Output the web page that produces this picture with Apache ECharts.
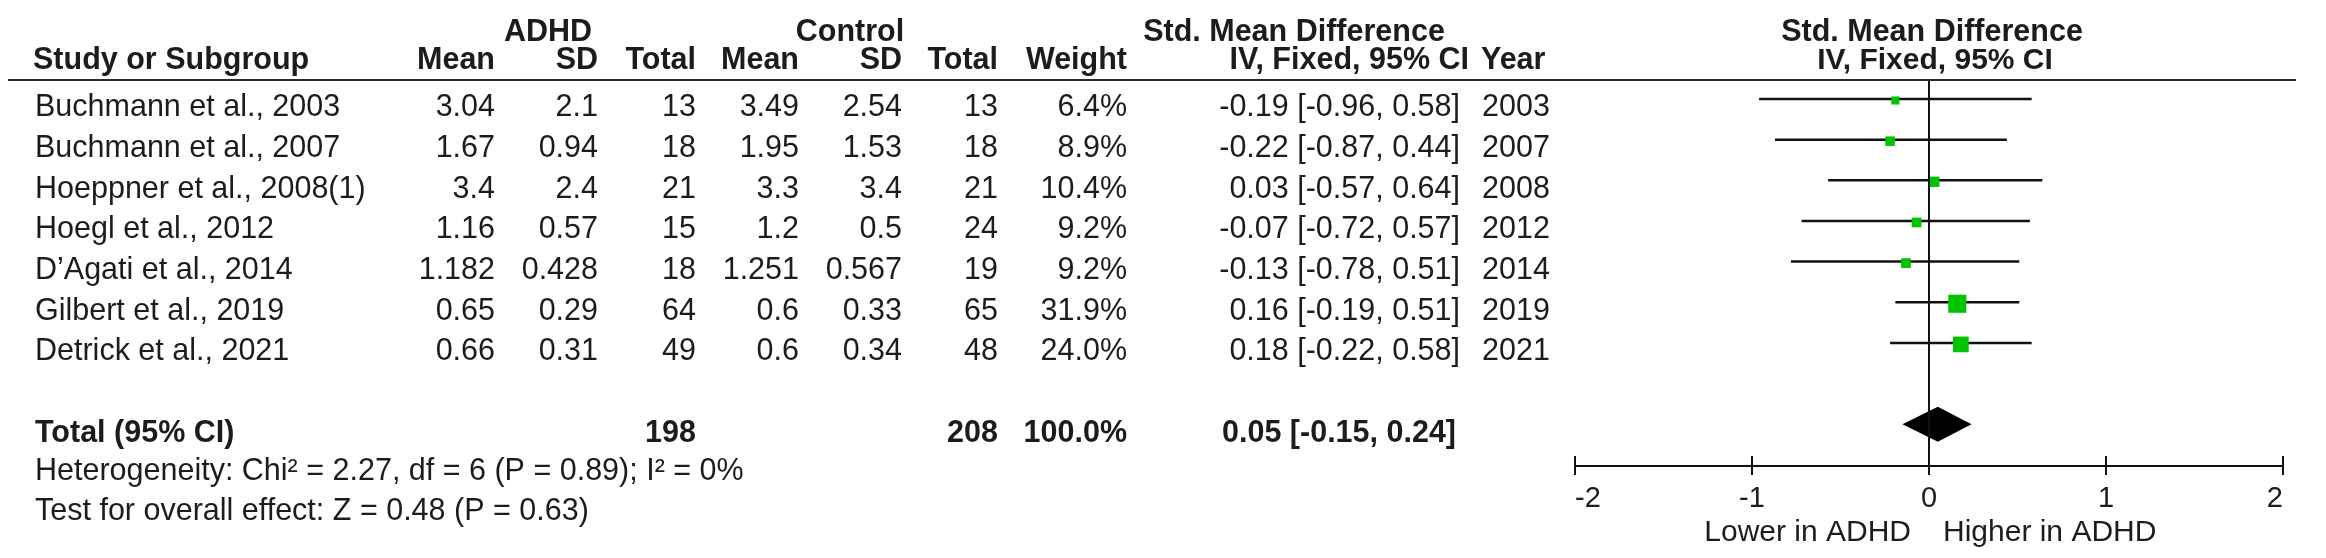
<!DOCTYPE html>
<html>
<head>
<meta charset="utf-8">
<title>Forest plot</title>
<script src="https://cdn.jsdelivr.net/npm/echarts@6.0.0/dist/echarts.min.js"></script>
<style>
html, body { margin: 0; padding: 0; background: #ffffff; }
#forestChart { width: 2326px; height: 558px; }
</style>
</head>
<body>
<div id="forestChart"></div>
<script>
// 数据 data
var studies = ['Buchmann et al., 2003', 'Buchmann et al., 2007', 'Hoeppner et al., 2008(1)', 'Hoegl et al., 2012',
    'D\u2019Agati et al., 2014', 'Gilbert et al., 2019', 'Detrick et al., 2021'];
var adhdMean = ['3.04', '1.67', '3.4', '1.16', '1.182', '0.65', '0.66'];
var adhdSD = ['2.1', '0.94', '2.4', '0.57', '0.428', '0.29', '0.31'];
var adhdN = [13, 18, 21, 15, 18, 64, 49];
var ctlMean = ['3.49', '1.95', '3.3', '1.2', '1.251', '0.6', '0.6'];
var ctlSD = ['2.54', '1.53', '3.4', '0.5', '0.567', '0.33', '0.34'];
var ctlN = [13, 18, 21, 24, 19, 65, 48];
var weight = [6.4, 8.9, 10.4, 9.2, 9.2, 31.9, 24.0];
var smd = [-0.19, -0.22, 0.03, -0.07, -0.13, 0.16, 0.18];
var lower = [-0.96, -0.87, -0.57, -0.72, -0.78, -0.19, -0.22];
var upper = [0.58, 0.44, 0.64, 0.57, 0.51, 0.51, 0.58];
var years = [2003, 2007, 2008, 2012, 2014, 2019, 2021];

var totalLabel = 'Total (95% CI)';
var totalAdhdN = 198;
var totalCtlN = 208;
var totalWeight = 100.0;
var totalEst = 0.05, totalLo = -0.15, totalHi = 0.24;

var groupHeads = ['ADHD', 'Control', 'Std. Mean Difference'];
var colHeads = ['Study or Subgroup', 'Mean', 'SD', 'Total', 'Mean', 'SD', 'Total', 'Weight', 'IV, Fixed, 95% CI', 'Year'];
var plotHeads = ['Std. Mean Difference', 'IV, Fixed, 95% CI'];
var footNotes = ['Heterogeneity: Chi\u00b2 = 2.27, df = 6 (P = 0.89); I\u00b2 = 0%', 'Test for overall effect: Z = 0.48 (P = 0.63)'];
var favourLabels = ['Lower in ADHD', 'Higher in ADHD'];

// 布局 layout
var FONT = '"Liberation Sans", Arial, sans-serif';
var FS = 30.5;
var TXT = '#1c1c1c';
var ROW0 = 99, ROW_H = 40.65, TEXT_DY = 9;
var GRID_TOP = 80, AXIS_Y = 466;
var TOTAL_ROW = 8;
var yMin = (GRID_TOP - ROW0) / ROW_H;
var yMax = (AXIS_Y - ROW0) / ROW_H;
var colX = [35, 495, 598, 696, 799, 902, 998, 1127, 1460, 1482];
var colAlign = ['left', 'right', 'right', 'right', 'right', 'right', 'right', 'right', 'right', 'left'];

function ci(e, l, h) {
    return e.toFixed(2) + ' [' + l.toFixed(2) + ', ' + h.toFixed(2) + ']';
}

var tableRows = [];
for (var i = 0; i < studies.length; i++) {
    tableRows.push({
        row: i, bold: false,
        cells: [studies[i], adhdMean[i], adhdSD[i], String(adhdN[i]), ctlMean[i], ctlSD[i], String(ctlN[i]),
            weight[i].toFixed(1) + '%', ci(smd[i], lower[i], upper[i]), String(years[i])]
    });
}
tableRows.push({
    row: TOTAL_ROW, bold: true,
    cells: [totalLabel, '', '', String(totalAdhdN), '', '', String(totalCtlN), totalWeight.toFixed(1) + '%',
        ci(totalEst, totalLo, totalHi), '']
});

function txt(text, x, y, align, bold, size) {
    return {
        type: 'text', x: x, y: y, silent: true,
        style: {
            text: text, fill: TXT, fontFamily: FONT, fontSize: size || FS,
            fontWeight: bold ? 'bold' : 'normal', align: align, verticalAlign: 'middle'
        }
    };
}

var graphics = [
    txt(groupHeads[0], 548, 33, 'center', true),
    txt(groupHeads[1], 850, 33, 'center', true),
    txt(groupHeads[2], 1294, 33, 'center', true),
    txt(plotHeads[0], 1932, 33, 'center', true),
    txt(plotHeads[1], 1935, 61, 'center', true, 30),
    txt(footNotes[0], 35, 472, 'left', false),
    txt(footNotes[1], 35, 512, 'left', false),
    txt(favourLabels[0], 1911, 533, 'right', false, 30),
    txt(favourLabels[1], 1943, 533, 'left', false, 30),
    {
        type: 'line', silent: true,
        shape: { x1: 8, y1: GRID_TOP, x2: 2296, y2: GRID_TOP },
        style: { stroke: '#2a2a2a', lineWidth: 2 }
    }
];
for (var c = 0; c < colHeads.length; c++) {
    var hx = colX[c];
    if (c === 8) hx = 1469;
    if (c === 9) hx = 1481;
    if (c === 0) hx = 33;
    graphics.push(txt(colHeads[c], hx, 61, colAlign[c], true));
}

var forestChart = echarts.init(document.getElementById('forestChart'));
var forestOption = {
    backgroundColor: '#ffffff',
    animation: false,
    graphic: { elements: graphics },
    grid: {
        left: 1575,
        right: 43,
        top: GRID_TOP,
        bottom: 558 - AXIS_Y,
        containLabel: false,
        outerBoundsMode: 'none'
    },
    xAxis: [{
        type: 'value',
        min: -2,
        max: 2,
        interval: 1,
        position: 'bottom',
        axisLine: { show: true, onZero: false, lineStyle: { color: '#111', width: 2 } },
        axisTick: { show: true, inside: true, length: 10, lineStyle: { color: '#111', width: 2 } },
        axisLabel: {
            show: true, margin: 18, fontSize: 29, color: TXT, fontFamily: FONT,
            alignMinLabel: 'left', alignMaxLabel: 'right'
        },
        splitLine: { show: false }
    }, {
        type: 'value',
        min: -2,
        max: 2,
        interval: 1,
        position: 'bottom',
        axisLine: { show: false, onZero: false },
        axisTick: { show: true, inside: false, length: 9, lineStyle: { color: '#111', width: 2 } },
        axisLabel: { show: false },
        splitLine: { show: false }
    }],
    yAxis: {
        type: 'value',
        min: yMin,
        max: yMax,
        inverse: true,
        show: false,
        splitLine: { show: false }
    },
    series: [{
        // 研究 CI 与方块
        name: 'studies',
        type: 'custom',
        xAxisIndex: 0,
        dimensions: ['smd', 'row', 'lower', 'upper', 'weight'],
        encode: { x: 0, y: 1 },
        data: smd.map(function (v, k) { return [v, k, lower[k], upper[k], weight[k]]; }),
        renderItem: function (params, api) {
            var r = api.value(1);
            var p = api.coord([api.value(0), r]);
            var lo = api.coord([api.value(2), r]);
            var hi = api.coord([api.value(3), r]);
            var s = 3.2 * Math.sqrt(api.value(4));
            return {
                type: 'group',
                children: [{
                    type: 'line',
                    shape: { x1: lo[0], y1: lo[1], x2: hi[0], y2: hi[1] },
                    style: { stroke: '#111', lineWidth: 2.5 }
                }, {
                    type: 'rect',
                    shape: { x: p[0] - s / 2, y: p[1] - s / 2 + 1.5, width: s, height: s },
                    style: { fill: '#00c400' }
                }]
            };
        },
        markLine: {
            silent: true,
            symbol: ['none', 'none'],
            label: { show: false },
            lineStyle: { color: '#111', width: 2, type: 'solid' },
            data: [{ xAxis: 0 }]
        },
        z: 3
    }, {
        // 合并效应 菱形
        name: 'total',
        type: 'custom',
        xAxisIndex: 0,
        encode: { x: 0, y: 1 },
        data: [[totalEst, TOTAL_ROW, totalLo, totalHi]],
        renderItem: function (params, api) {
            var r = api.value(1);
            var p = api.coord([api.value(0), r]);
            var lo = api.coord([api.value(2), r]);
            var hi = api.coord([api.value(3), r]);
            var hh = 17.5;
            return {
                type: 'polygon',
                shape: { points: [[lo[0], p[1]], [p[0], p[1] - hh], [hi[0], p[1]], [p[0], p[1] + hh]] },
                style: { fill: '#000' }
            };
        },
        z: 4
    }, {
        // 表格 text table
        name: 'table',
        type: 'custom',
        xAxisIndex: 0,
        encode: { x: 0, y: 1 },
        data: tableRows.map(function (t) { return [0, t.row]; }),
        renderItem: function (params, api) {
            var t = tableRows[params.dataIndex];
            var y = api.coord([0, api.value(1)])[1] + TEXT_DY;
            var kids = [];
            for (var j = 0; j < t.cells.length; j++) {
                if (!t.cells[j]) continue;
                var x = colX[j];
                if (t.bold && j === 8) x = 1456;
                kids.push(txt(t.cells[j], x, y, colAlign[j], t.bold));
            }
            return { type: 'group', children: kids };
        },
        z: 2
    }]
};
forestChart.setOption(forestOption);
</script>
</body>
</html>
